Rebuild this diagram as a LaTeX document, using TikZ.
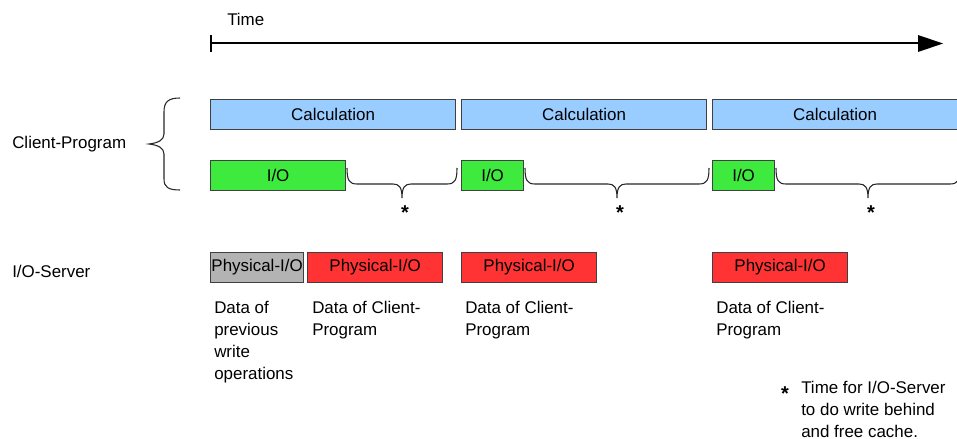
\documentclass[tikz,border=0pt]{standalone}
\usepackage{fontspec}
\setmainfont{Liberation Sans}
\begin{document}
\begin{tikzpicture}[x=0.75pt,y=-0.75pt,
  every node/.style={font=\fontsize{12.7}{16.5}\selectfont, inner sep=0pt},
  bar/.style={draw=black!75, line width=0.9pt, minimum height=22.5pt, anchor=north west},
  calcbar/.style={bar, fill=calcblue},
  iobar/.style={bar, fill=iogreen},
  phybar/.style={bar, fill=phyred},
  oldbar/.style={bar, fill=oldgray},
  lbl/.style={anchor=base west, align=left},
  bracepath/.style={draw=black!85, line width=0.8pt},
  starmark/.style={font=\fontsize{15}{15}\selectfont\bfseries}
]
\definecolor{calcblue}{HTML}{99CCFF}
\definecolor{iogreen}{HTML}{3DEA3D}
\definecolor{phyred}{HTML}{FF3333}
\definecolor{oldgray}{HTML}{B3B3B3}

\useasboundingbox (0,0) rectangle (957,439);

% time axis
\node[lbl] (time) at (227,26) {Time};
\coordinate (t0) at (211,43);
\coordinate (t1) at (918,43);
\draw[line width=0.8pt] (t0) -- (t1);
\draw[line width=1.5pt] (211,35) -- (211,52);
\fill (918,35) -- (943,43.5) -- (918,52) -- cycle;

% row labels
\node[lbl] (client) at (12,148) {Client-Program};
\node[lbl] (server) at (12,277) {I/O-Server};

% brace grouping the client rows
\draw[bracepath] (180,98) .. controls (168,98) and (164,102) .. (164,112)
  -- (164,134) .. controls (164,140) and (158,143) .. (149,144)
  .. controls (158,145) and (164,148) .. (164,154)
  -- (164,179) .. controls (164,187) and (168,190) .. (180,190);

% calculation phases
\node[calcbar, minimum width=183.75pt] (c1) at (210,99) {Calculation};
\node[calcbar, minimum width=183.75pt] (c2) at (461,99) {Calculation};
\node[calcbar, minimum width=183.75pt] (c3) at (712,99) {Calculation};

% client I/O phases
\node[iobar, minimum width=101.25pt] (io1) at (210,160) {I/O};
\node[iobar, minimum width=46.5pt] (io2) at (461,160) {I/O};
\node[iobar, minimum width=46.5pt] (io3) at (712,160) {I/O};

% braces over the idle gaps, each marked with a star
\foreach \xa/\xb/\nm in {347/457/g1, 525/709/g2, 776/960/g3}{
  \pgfmathsetmacro{\xc}{(\xa+\xb)/2}
  \draw[bracepath] (\xa,168) .. controls (\xa,180) and (\xa+2,184) .. (\xa+10,184)
    -- (\xc-9,184) .. controls (\xc-3,184) and (\xc,187) .. (\xc,198)
    .. controls (\xc,187) and (\xc+3,184) .. (\xc+9,184)
    -- (\xb-10,184) .. controls (\xb-2,184) and (\xb,180) .. (\xb,168);
  \node[starmark] (\nm) at (\xc+3,213) {*};
}

% server physical I/O
\node[oldbar, minimum width=69.75pt] (p0) at (210,252) {Physical-I/O};
\node[phybar, minimum width=101.25pt] (p1) at (307,252) {Physical-I/O};
\node[phybar, minimum width=101.25pt] (p2) at (461,252) {Physical-I/O};
\node[phybar, minimum width=101.25pt] (p3) at (712,252) {Physical-I/O};

% descriptions below the server bars (placed by the baseline of their last line)
\node[lbl] (d0) at (214,379) {Data of\\previous\\write\\operations};
\node[lbl] (d1) at (312,335) {Data of Client-\\Program};
\node[lbl] (d2) at (465,335) {Data of Client-\\Program};
\node[lbl] (d3) at (716,335) {Data of Client-\\Program};

% footnote
\node[starmark] (fstar) at (785,394) {*};
\node[lbl] (note) at (801,437) {Time for I/O-Server\\to do write behind\\and free cache.};
\end{tikzpicture}
\end{document}
